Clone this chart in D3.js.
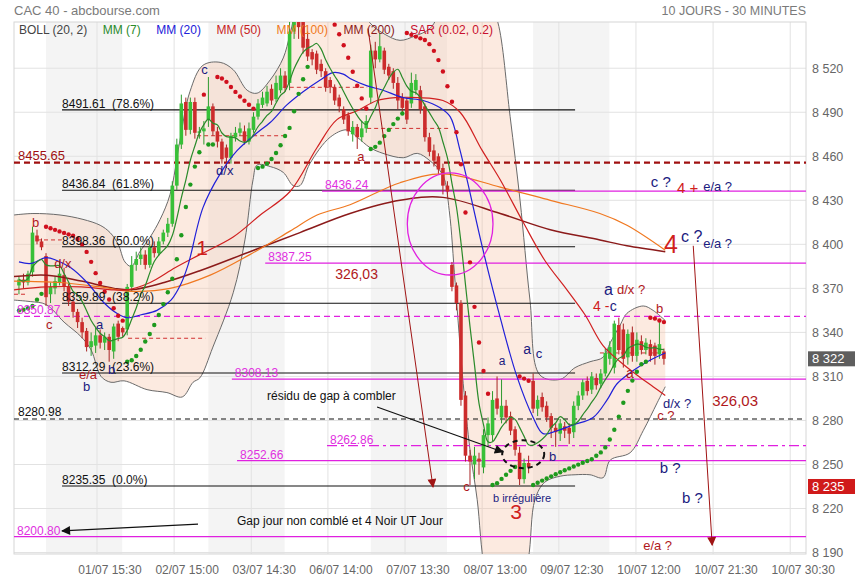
<!DOCTYPE html>
<html>
<head>
<meta charset="utf-8">
<script src="https://cdn.jsdelivr.net/npm/d3@7"></script>
<style>
body { margin: 0; background: #fff; }
svg { font-family: "Liberation Sans", Arial, sans-serif; }
</style>
</head>
<body>
<div id="vis"></div>
<script>
// bar index 0 = first 30 min bar of 01/07, negatives = end of 30/06
var firstK = -6;
var ohlc = [
  [8372,8378,8366,8376],[8376,8380,8370,8374],[8374,8382,8372,8380],[8381,8412,8378,8408],[8406,8410,8400,8402],[8402,8404,8396,8398],
  // 01/07
  [8392,8394,8358,8364],[8366,8374,8360,8371],[8370,8378,8366,8375],[8374,8389,8372,8380],[8379,8384,8368,8371],[8371,8373,8358,8361],
  [8361,8363,8350,8354],[8354,8356,8343,8347],[8347,8350,8336,8340],[8341,8343,8327,8330],[8330,8340,8324,8334],[8331,8343,8326,8338],
  [8338,8342,8329,8333],[8333,8340,8328,8337],[8337,8339,8320,8328],[8327,8346,8322,8344],[8346,8348,8334,8337],[8343,8344,8337,8340],
  // 02/07
  [8342,8373,8338,8371],[8371,8392,8368,8386],[8386,8395,8382,8390],[8390,8398,8386,8393],[8393,8396,8383,8386],[8386,8400,8384,8398],
  [8398,8402,8391,8394],[8394,8405,8392,8402],[8402,8410,8400,8408],[8408,8418,8405,8414],[8414,8443,8412,8440],[8440,8472,8437,8468],
  [8468,8502,8465,8496],[8497,8500,8474,8478],[8478,8500,8475,8497],[8497,8500,8472,8476],[8476,8480,8472,8477],[8477,8484,8468,8479],
  // 03/07
  [8485,8514,8480,8494],[8494,8496,8474,8477],[8477,8480,8466,8470],[8470,8472,8455,8458],[8466,8468,8452,8459],[8459,8476,8455,8474],
  [8473,8480,8470,8476],[8476,8483,8474,8479],[8477,8481,8468,8470],[8470,8483,8468,8479],[8478,8490,8476,8487],[8487,8499,8485,8496],
  [8495,8504,8493,8500],[8496,8508,8494,8504],[8506,8509,8495,8498],[8499,8515,8497,8510],[8505,8520,8503,8515],[8515,8518,8504,8507],
  // 06/07
  [8510,8560,8505,8545],[8545,8565,8540,8558],[8558,8565,8540,8548],[8552,8560,8530,8534],[8540,8545,8525,8528],[8531,8533,8522,8526],
  [8530,8532,8516,8519],[8523,8526,8514,8518],[8518,8520,8504,8507],[8512,8514,8503,8507],[8507,8509,8495,8498],[8500,8502,8490,8494],
  [8492,8494,8482,8485],[8488,8490,8474,8477],[8475,8484,8470,8480],[8480,8482,8465,8473],[8473,8484,8470,8479],[8479,8488,8476,8484],
  // 07/07
  [8500,8536,8496,8532],[8532,8538,8520,8526],[8526,8544,8524,8535],[8532,8534,8516,8519],[8521,8523,8512,8515],[8518,8520,8506,8510],
  [8510,8514,8492,8498],[8500,8503,8490,8493],[8498,8500,8482,8485],[8496,8517,8493,8510],[8505,8516,8502,8512],[8505,8508,8489,8492],
  [8494,8496,8470,8473],[8473,8476,8460,8463],[8464,8468,8453,8457],[8460,8462,8448,8451],[8452,8455,8434,8440],[8440,8443,8432,8436],
  // 08/07
  [8386,8388,8368,8371],[8372,8374,8355,8360],[8360,8362,8290,8294],[8297,8300,8252,8256],[8256,8260,8236,8252],[8250,8262,8240,8256],
  [8254,8258,8243,8252],[8248,8274,8244,8270],[8270,8282,8262,8278],[8270,8300,8266,8294],[8295,8310,8284,8288],[8282,8308,8278,8290],
  [8290,8294,8278,8282],[8283,8286,8270,8273],[8274,8276,8256,8260],[8258,8262,8236,8240],[8240,8254,8237,8251],[8251,8256,8244,8248],
  // 09/07
  [8307,8312,8285,8288],[8288,8297,8283,8294],[8296,8299,8286,8289],[8290,8293,8279,8282],[8283,8285,8268,8275],[8275,8278,8262,8272],
  [8271,8281,8266,8278],[8276,8279,8268,8273],[8275,8278,8264,8271],[8272,8293,8268,8290],[8290,8300,8287,8297],[8297,8308,8294,8306],
  [8307,8310,8297,8300],[8301,8313,8298,8310],[8309,8312,8301,8304],[8305,8315,8302,8312],[8312,8329,8310,8326],[8322,8334,8318,8330],
  // 10/07
  [8316,8348,8312,8346],[8345,8350,8325,8328],[8342,8346,8316,8322],[8323,8342,8318,8339],[8340,8344,8320,8324],[8324,8340,8320,8335],
  [8334,8338,8325,8328],[8328,8336,8325,8333],[8332,8335,8320,8324],[8331,8333,8318,8324],[8325,8347,8322,8332],[8327,8329,8318,8322]
];

var shadedDays = [0, 36, 72, 108];
var xTicks = [11.3, 28.4, 45.5, 62.5, 79.6, 96.7, 113.7, 130.8, 147.9, 165.0];
var xTickLabels = ["01/07 15:30","02/07 15:00","03/07 14:30","06/07 14:00","07/07 13:30","08/07 13:00","09/07 12:30","10/07 12:00","10/07 21:30","10/07 30:30"];
var yTicks = [8190, 8220, 8250, 8280, 8310, 8340, 8370, 8400, 8430, 8460, 8490, 8520];

// indicator curves: [bar, value]
var bollUp = [[-7.1,8420],[-2.9,8421],[3.1,8420],[8.2,8417],[12,8413],[14.2,8408],[16,8400],[17.5,8388],[18.9,8385],[20.8,8395],
  [23.1,8405],[25.3,8417],[27.5,8434],[29.7,8471],[31.9,8504],[34.8,8522],[38.6,8524],[41.5,8519],[44.6,8505],[46.8,8503],
  [49.7,8512],[52.6,8527],[54.1,8543],[56.3,8566],[63,8580],[69.6,8566],[71.8,8551],[75.2,8543],[78.5,8539],[81.8,8542],
  [85.1,8547],[88.5,8563],[94,8573],[98.5,8563],[100.2,8551],[102.9,8487],[105.1,8430],[107.3,8362],[109.5,8311],[114,8308],
  [117.3,8316],[120.6,8320],[123.5,8323],[125.1,8333],[127.3,8345],[128.8,8353],[132.4,8358],[134.6,8355],[137.3,8348]];
var bollDown = [[-7.1,8362],[-3.5,8361],[0,8359],[4,8347],[7.8,8337],[10,8328],[12.2,8310],[14.4,8306],[17.3,8307],[22.4,8301],
  [26.8,8299],[30.2,8296],[32.6,8306],[34.1,8309],[37,8330],[41.5,8367],[44.1,8403],[45.9,8444],[46.8,8454],[49.7,8453],
  [52.6,8449],[54.8,8440],[56.3,8440],[58.5,8455],[63,8473],[66.7,8478],[69,8473],[71.8,8466],[74.7,8462],[79.2,8459],
  [82.3,8462],[85.1,8457],[88,8447],[89.4,8423],[90.7,8374],[92.5,8305],[94,8260],[95.6,8226],[97.3,8178],[100.7,8144],
  [104,8151],[106.9,8185],[108.4,8226],[110.6,8238],[114,8242],[117.3,8243],[120.6,8243],[123.5,8241],[125.1,8253],
  [129.5,8258],[132.4,8273],[135.5,8292],[137.3,8303]];
var mm20 = [[-6,8388],[-3.3,8387],[0,8391],[2.4,8389],[5.5,8384],[9.1,8374],[12.9,8360],[15.7,8353],[18,8350],[21.1,8352],
  [24.6,8355],[27.7,8362],[29.9,8373],[31.5,8386],[34.8,8425],[38.6,8448],[42.4,8464],[46.8,8476],[49.7,8483],[53.4,8495],
  [57,8504],[60.8,8512],[63.6,8517],[65.9,8516],[67.4,8513],[71.2,8508],[74.7,8505],[79.2,8500],[83.6,8498],[87.4,8493],
  [89.6,8487],[91.8,8464],[96.9,8396],[100.7,8350],[104.4,8310],[108,8282],[110.2,8271],[113.3,8273],[116.9,8277],
  [121.3,8282],[124.4,8294],[126.6,8305],[130.2,8314],[133.9,8321],[137.3,8326]];
var mm50 = [[-7.1,8369],[0.2,8371],[7.8,8371],[15.1,8369],[18,8369],[23.1,8374],[28.6,8384],[34.1,8393],[41.5,8405],
  [47.5,8420],[54.1,8436],[60.1,8466],[64.5,8485],[69,8491],[73.4,8498],[77.8,8500],[82.3,8500],[88,8498],[91.8,8490],
  [96.7,8464],[100.7,8444],[105.8,8415],[110.6,8389],[115.5,8369],[119.5,8352],[123.5,8331],[127.3,8320],[131,8311],
  [134.6,8303],[137.3,8297]];
var mm100 = [[-7.1,8375],[3.1,8374],[12,8371],[18.9,8368],[27.5,8370],[36.4,8379],[45.2,8393],[54.1,8409],[60.1,8420],
  [67.4,8427],[78.5,8442],[88,8448],[100.7,8439],[111.8,8430],[122.8,8421],[128.8,8413],[137.3,8396]];
var mm200 = [[-7.1,8378],[0.2,8379],[7.8,8375],[15.1,8370],[18.9,8369],[26.2,8374],[34.1,8382],[45.2,8395],[56.3,8408],
  [67.4,8421],[78.5,8430],[88,8432],[100.7,8421],[111.8,8410],[122.8,8403],[128.8,8399],[137.3,8395]];

var fibLevels = [[8491.61,"78.6%"],[8436.84,"61.8%"],[8398.36,"50.0%"],[8359.89,"38.2%"],[8312.29,"23.6%"],[8235.35,"0.0%"]];
var fibSpan = [3.55, 117.3];
// [value, start bar (null = left edge), style]
var pinkLevels = [[8436.24,61.2,"solid"],[8387.25,48.6,"solid"],[8350.87,null,"dash"],[8308.13,41.2,"solid"],
  [8262.86,62.3,"dashdot"],[8252.66,42.35,"solid"],[8200.80,null,"solid"]];
var blackDashed = 8280.98;
var redDashed = 8455.65;
var dayRefs = [[-7.1,-4.5,8366],[-2,3.5,8403],[18.2,35.3,8336],[33.5,53,8474],[52.5,71.2,8507],[71.2,89.6,8479],[122.8,136,8326]];

var notes = [
  [34.4,8516,"c","N",13],[37.7,8447,"d/x","N",13],[69.0,8457,"a","R",13],[-3.1,8412,"b","R",13],[1.8,8384,"d/x","R",13],
  [0,8342,"c","R",13],[11.1,8342,"a","N",13],[7.3,8308.5,"e/a","R",13],[8.2,8300,"b","N",13],[13.75,8311.6,"b","N",13],
  [33.3,8392.7,"1","B",21],[64.1,8376.4,"326,03","R",14],[100.4,8317.8,"a","N",12],[105.8,8325.3,"a","N",14],
  [108.6,8322.5,"c","N",13],[49.0,8293.9,"résidu de gap à combler","K",12],[111.5,8252.4,"b","N",13],
  [92.5,8231.9,"c","R",13],[99.1,8224.4,"b irrégulière","N",11],[102.9,8212.8,"3","B",21],
  [42.35,8208.8,"Gap jour non comblé et 4 Noir UT Jour","K",12],[121.3,8354.6,"4 -","B",14],[125.0,8354.6,"c","N",14],
  [123.7,8365.5,"a","N",16],[126.6,8366.2,"d/x ?","R",13],[135.25,8353.2,"b","R",13],[128.6,8308.9,"a","R",14],
  [136.8,8288.5,"d/x ?","N",13],[135.5,8280.3,"c ?","R",13],[147.7,8289.8,"326,03","R",15],[136.1,8244.2,"b ?","N",15],
  [141.0,8223.7,"b ?","N",15],[132.4,8191.7,"e/a ?","R",13],[134.1,8439.1,"c ?","N",15],[139.9,8435.0,"4 +","B",15],
  [145.7,8436.3,"e/a ?","N",13],[137.0,8394.1,"4","B",25],[140.8,8401.6,"c ?","N",16],[145.7,8397.5,"e/a ?","N",13]
];
// [bar0, value0, bar1, value1, colour]
var arrows = [[71.4,8547,85.8,8234.6,"R"],[143.5,8399,147.7,8195,"R"],[73.4,8289.2,101.3,8258.5,"K"],[33.7,8209.4,3.54,8204.7,"K"]];
// [bar, value, bar radius, value radius, style]
var rings = [[89.6,8413.9,9.5,34.8,"pink"],[105.8,8257,4.66,9.5,"dash"]];
var priceTags = [[8322,"#5e5e5e"],[8235,"#d01a1a"]];

var legend = [["BOLL (20, 2)","#444"],["MM (7)","#2a8a2a"],["MM (20)","#2020d8"],["MM (50)","#c81e1e"],
  ["MM (100)","#f07820"],["MM (200)","#8b1a1a"],["SAR (0.02, 0.2)","#c8102e"]];

var colors = { N: "#1b1b80", R: "#b0181c", B: "#d0201c", K: "#111", pink: "#e020e0", up: "#38c038", down: "#cc2c2c" };

var width = 855, height = 580;
var x = d3.scaleLinear().domain([-7.1, 168.5]).range([14, 806]);
var y = d3.scaleLinear().domain([8189, 8551.5]).range([554, 22]);
var pLeft = x.range()[0], pRight = x.range()[1], pTop = y.range()[1], pBottom = y.range()[0];

var bars = ohlc.map(function(d, i) { return { k: firstK + i, o: d[0], h: d[1], l: d[2], c: d[3] }; });

var mm7 = bars.map(function(b, i) {
  return [b.k, d3.mean(bars.slice(Math.max(0, i - 6), i + 1), function(d) { return d.c; })];
});

function parabolic(bs, st) {
  var up = st.up, sar = st.sar, ep = st.ep, af = st.step;
  return bs.map(function(b, i) {
    if (i > 0) {
      sar = sar + af * (ep - sar);
      var p1 = bs[i - 1], p2 = bs[Math.max(0, i - 2)];
      sar = up ? Math.min(sar, p1.l, p2.l) : Math.max(sar, p1.h, p2.h);
    }
    if (up && b.l < sar) { up = false; sar = ep; ep = b.l; af = st.step; }
    else if (!up && b.h > sar) { up = true; sar = ep; ep = b.h; af = st.step; }
    else if (up && b.h > ep) { ep = b.h; af = Math.min(af + st.step, st.max); }
    else if (!up && b.l < ep) { ep = b.l; af = Math.min(af + st.step, st.max); }
    return { k: b.k, v: sar, up: up };
  });
}
var sar = parabolic(bars, { up: true, sar: 8355, ep: 8378, step: 0.02, max: 0.2 });

var svg = d3.select("#vis").append("svg").attr("width", width).attr("height", height);

var defs = svg.append("defs");
defs.append("clipPath").attr("id", "plotclip")
  .append("rect").attr("x", pLeft).attr("y", pTop).attr("width", pRight - pLeft).attr("height", pBottom - pTop);
[["R", "#a01414"], ["K", "#111"]].forEach(function(m) {
  defs.append("marker").attr("id", "head" + m[0])
    .attr("viewBox", "0 0 10 10").attr("refX", 9).attr("refY", 5)
    .attr("markerWidth", m[0] == "R" ? 11 : 12).attr("markerHeight", 9)
    .attr("markerUnits", "userSpaceOnUse").attr("orient", "auto")
    .append("path").attr("d", "M0,0L10,5L0,10Z").attr("fill", m[1]);
});

// day shading
svg.selectAll(".day").data(shadedDays).enter().append("rect")
  .attr("x", function(d) { return x(d); })
  .attr("width", function(d) { return x(d + 16.9) - x(d); })
  .attr("y", pTop).attr("height", pBottom - pTop).attr("fill", "#f4f4f4");

// grid
svg.selectAll(".hgrid").data(yTicks).enter().append("line")
  .attr("x1", pLeft).attr("x2", pRight).attr("y1", function(d) { return y(d); }).attr("y2", function(d) { return y(d); })
  .attr("stroke", "#e2e2e2");
svg.selectAll(".vgrid").data(xTicks).enter().append("line")
  .attr("y1", pTop).attr("y2", pBottom).attr("x1", function(d) { return x(d); }).attr("x2", function(d) { return x(d); })
  .attr("stroke", "#e2e2e2");
svg.append("rect").attr("x", pLeft).attr("y", pTop).attr("width", pRight - pLeft).attr("height", pBottom - pTop)
  .attr("fill", "none").attr("stroke", "#d6d6d6");

var plot = svg.append("g").attr("clip-path", "url(#plotclip)");

var curve = d3.line().x(function(d) { return x(d[0]); }).y(function(d) { return y(d[1]); })
  .curve(d3.curveCatmullRom.alpha(0.5));

// bollinger band
plot.append("path")
  .attr("d", curve(bollUp) + "L" + curve(bollDown.slice().reverse()).slice(1) + "Z")
  .attr("fill", "rgba(246,196,166,0.35)");
[bollUp, bollDown].forEach(function(b) {
  plot.append("path").attr("d", curve(b)).attr("fill", "none").attr("stroke", "#6a6a6a").attr("stroke-width", 1);
});

// horizontal levels
plot.selectAll(".fib").data(fibLevels).enter().append("line")
  .attr("x1", x(fibSpan[0])).attr("x2", x(fibSpan[1]))
  .attr("y1", function(d) { return y(d[0]); }).attr("y2", function(d) { return y(d[0]); })
  .attr("stroke", "#111").attr("stroke-width", 1.1);
plot.selectAll(".pink").data(pinkLevels).enter().append("line")
  .attr("x1", function(d) { return d[1] === null ? pLeft : x(d[1]); }).attr("x2", pRight)
  .attr("y1", function(d) { return y(d[0]); }).attr("y2", function(d) { return y(d[0]); })
  .attr("stroke", colors.pink).attr("stroke-width", 1.3)
  .attr("stroke-dasharray", function(d) { return d[2] == "dash" ? "6,4" : d[2] == "dashdot" ? "10,4,3,4" : null; });
plot.append("line").attr("x1", pLeft).attr("x2", pRight).attr("y1", y(blackDashed)).attr("y2", y(blackDashed))
  .attr("stroke", "#111").attr("stroke-width", 1.1).attr("stroke-dasharray", "5,4");
plot.append("line").attr("x1", pLeft).attr("x2", pRight).attr("y1", y(redDashed)).attr("y2", y(redDashed))
  .attr("stroke", "#a01010").attr("stroke-width", 2.2).attr("stroke-dasharray", "6,4");
plot.selectAll(".ref").data(dayRefs).enter().append("line")
  .attr("x1", function(d) { return x(d[0]); }).attr("x2", function(d) { return x(d[1]); })
  .attr("y1", function(d) { return y(d[2]); }).attr("y2", function(d) { return y(d[2]); })
  .attr("stroke", "#d03030").attr("stroke-width", 1).attr("stroke-dasharray", "4,3");

// candles
plot.selectAll(".wick").data(bars).enter().append("line")
  .attr("x1", function(d) { return x(d.k); }).attr("x2", function(d) { return x(d.k); })
  .attr("y1", function(d) { return y(d.h); }).attr("y2", function(d) { return y(d.l); })
  .attr("stroke", function(d) { return d.c >= d.o ? "#2e9a2e" : "#a82424"; }).attr("stroke-width", 1);
plot.selectAll(".body").data(bars).enter().append("rect")
  .attr("x", function(d) { return x(d.k) - 1.8; }).attr("width", 3.6)
  .attr("y", function(d) { return y(Math.max(d.o, d.c)); })
  .attr("height", function(d) { return Math.max(1, Math.abs(y(d.o) - y(d.c))); })
  .attr("fill", function(d) { return d.c >= d.o ? colors.up : colors.down; });

// moving averages
[[mm200, "#8b1a1a", 1.5], [mm100, "#f07820", 1.2], [mm50, "#d02020", 1.2], [mm20, "#2020d8", 1.2], [mm7, "#2a8a2a", 1.2]]
  .forEach(function(m) {
    plot.append("path").attr("d", curve(m[0])).attr("fill", "none").attr("stroke", m[1]).attr("stroke-width", m[2]);
  });

// SAR
plot.selectAll(".sar").data(sar).enter().append("circle")
  .attr("cx", function(d) { return x(d.k); }).attr("cy", function(d) { return y(d.v); }).attr("r", 2.2)
  .attr("fill", function(d) { return d.up ? "#1e9a1e" : "#d0101e"; });

// drawings
plot.selectAll(".ring").data(rings).enter().append("ellipse")
  .attr("cx", function(d) { return x(d[0]); }).attr("cy", function(d) { return y(d[1]); })
  .attr("rx", function(d) { return x(d[0] + d[2]) - x(d[0]); })
  .attr("ry", function(d) { return y(d[1] - d[3]) - y(d[1]); })
  .attr("fill", "none")
  .attr("stroke", function(d) { return d[4] == "pink" ? colors.pink : "#111"; })
  .attr("stroke-width", function(d) { return d[4] == "pink" ? 1.3 : 2; })
  .attr("stroke-dasharray", function(d) { return d[4] == "dash" ? "5,4" : null; });
svg.selectAll(".arrow").data(arrows).enter().append("line")
  .attr("x1", function(d) { return x(d[0]); }).attr("y1", function(d) { return y(d[1]); })
  .attr("x2", function(d) { return x(d[2]); }).attr("y2", function(d) { return y(d[3]); })
  .attr("stroke", function(d) { return d[4] == "R" ? "#a01414" : "#111"; })
  .attr("stroke-width", function(d) { return d[4] == "R" ? 1 : 1.2; })
  .attr("marker-end", function(d) { return "url(#head" + d[4] + ")"; });

// level labels
svg.selectAll(".fibtxt").data(fibLevels).enter().append("text")
  .attr("x", x(fibSpan[0])).attr("y", function(d) { return y(d[0]) - 2; })
  .style("white-space", "pre").attr("font-size", 12).attr("fill", "#111")
  .text(function(d) { return d[0].toFixed(2) + "  (" + d[1] + ")"; });
svg.selectAll(".pinktxt").data(pinkLevels).enter().append("text")
  .attr("x", function(d) { return (d[1] === null ? pLeft : x(d[1])) + 3; })
  .attr("y", function(d) { return y(d[0]) - 2; })
  .attr("font-size", 12).attr("fill", "#e030e0")
  .text(function(d) { return d[0].toFixed(2); });
svg.append("text").attr("x", pLeft + 4).attr("y", y(blackDashed) - 3).attr("font-size", 12).attr("fill", "#111")
  .text(blackDashed.toFixed(2));
svg.append("text").attr("x", pLeft + 4).attr("y", y(redDashed) - 3).attr("font-size", 13).attr("fill", "#a01010")
  .text(redDashed.toFixed(2));

// wave notes
svg.selectAll(".note").data(notes).enter().append("text")
  .attr("x", function(d) { return x(d[0]); }).attr("y", function(d) { return y(d[1]); })
  .attr("font-size", function(d) { return d[4]; })
  .attr("fill", function(d) { return colors[d[3]]; })
  .style("white-space", "pre")
  .text(function(d) { return d[2]; });

// legend
var lx = 19;
legend.forEach(function(l) {
  var t = svg.append("text").attr("x", lx).attr("y", 34).attr("font-size", 12).attr("fill", l[1]).text(l[0]);
  lx += t.node().getComputedTextLength() + 15.5;
});
svg.append("text").attr("x", 14).attr("y", 15).attr("font-size", 13).attr("fill", "#7a7a7a").text("CAC 40 - abcbourse.com");
svg.append("text").attr("x", pRight).attr("y", 15).attr("text-anchor", "end").attr("font-size", 12.5).attr("fill", "#7a7a7a")
  .text("10 JOURS - 30 MINUTES");

// axes labels
var fmt = function(v) { return d3.format(",")(v).replace(",", " "); };
svg.selectAll(".ylab").data(yTicks).enter().append("text")
  .attr("x", pRight + 6).attr("y", function(d) { return y(d); }).attr("dy", "0.35em")
  .attr("font-size", 12.5).attr("fill", "#666").text(fmt);
svg.selectAll(".xlab").data(xTicks).enter().append("text")
  .attr("x", function(d) { return x(d); }).attr("dx", 13).attr("y", 574)
  .attr("text-anchor", "middle").attr("font-size", 12).attr("fill", "#666")
  .text(function(d, i) { return xTickLabels[i]; });

// price tags
var tags = svg.selectAll(".tag").data(priceTags).enter().append("g");
tags.append("rect").attr("x", pRight + 2).attr("y", function(d) { return y(d[0]) - 7.5; })
  .attr("width", width - pRight - 2).attr("height", 15).attr("fill", function(d) { return d[1]; });
tags.append("text").attr("x", pRight + 6).attr("y", function(d) { return y(d[0]); }).attr("dy", "0.36em")
  .attr("font-size", 13).attr("fill", "#fff").text(function(d) { return fmt(d[0]); });
</script>
</body>
</html>
